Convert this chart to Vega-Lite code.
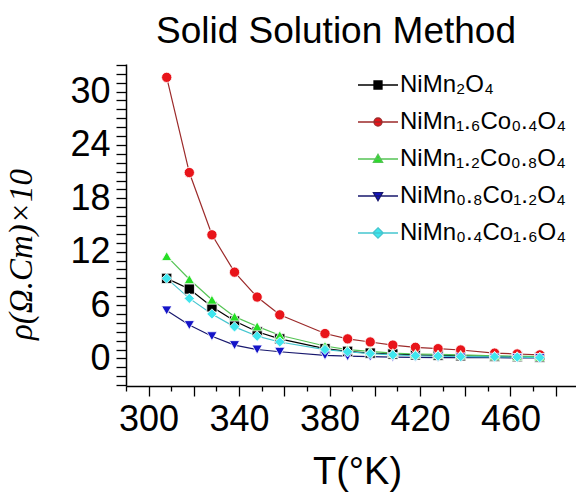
{
  "$schema": "https://vega.github.io/schema/vega-lite/v6.json",
  "autosize": {"type": "none"},
  "padding": {"left": 126, "top": 64, "right": 0, "bottom": 106},
  "width": 450,
  "height": 322,
  "background": "white",
  "config": {"view": {"stroke": null}},
  "title": {"text": "Solid Solution Method", "frame": "group", "anchor": "middle", "dx": -15, "dy": 16, "offset": 12, "font": "Liberation Sans", "fontSize": 37, "fontWeight": "normal", "color": "black"},
  "data": {"values": [
    {"T":308,"s":"NiMn₂O₄","r":9.0},{"T":318,"s":"NiMn₂O₄","r":7.8},{"T":328,"s":"NiMn₂O₄","r":5.8},{"T":338,"s":"NiMn₂O₄","r":4.2},{"T":348,"s":"NiMn₂O₄","r":3.0},{"T":358,"s":"NiMn₂O₄","r":2.2},{"T":378,"s":"NiMn₂O₄","r":1.1},{"T":388,"s":"NiMn₂O₄","r":0.8},{"T":398,"s":"NiMn₂O₄","r":0.6},{"T":408,"s":"NiMn₂O₄","r":0.5},{"T":418,"s":"NiMn₂O₄","r":0.4},{"T":428,"s":"NiMn₂O₄","r":0.35},{"T":438,"s":"NiMn₂O₄","r":0.3},{"T":453,"s":"NiMn₂O₄","r":0.22},{"T":463,"s":"NiMn₂O₄","r":0.2},{"T":473,"s":"NiMn₂O₄","r":0.15},
    {"T":308,"s":"NiMn₁.₆Co₀.₄O₄","r":31.6},{"T":318,"s":"NiMn₁.₆Co₀.₄O₄","r":20.9},{"T":328,"s":"NiMn₁.₆Co₀.₄O₄","r":13.9},{"T":338,"s":"NiMn₁.₆Co₀.₄O₄","r":9.7},{"T":348,"s":"NiMn₁.₆Co₀.₄O₄","r":6.9},{"T":358,"s":"NiMn₁.₆Co₀.₄O₄","r":4.9},{"T":378,"s":"NiMn₁.₆Co₀.₄O₄","r":2.8},{"T":388,"s":"NiMn₁.₆Co₀.₄O₄","r":2.2},{"T":398,"s":"NiMn₁.₆Co₀.₄O₄","r":1.85},{"T":408,"s":"NiMn₁.₆Co₀.₄O₄","r":1.5},{"T":418,"s":"NiMn₁.₆Co₀.₄O₄","r":1.25},{"T":428,"s":"NiMn₁.₆Co₀.₄O₄","r":1.1},{"T":438,"s":"NiMn₁.₆Co₀.₄O₄","r":0.95},{"T":453,"s":"NiMn₁.₆Co₀.₄O₄","r":0.6},{"T":463,"s":"NiMn₁.₆Co₀.₄O₄","r":0.5},{"T":473,"s":"NiMn₁.₆Co₀.₄O₄","r":0.4},
    {"T":308,"s":"NiMn₁.₂Co₀.₈O₄","r":11.5},{"T":318,"s":"NiMn₁.₂Co₀.₈O₄","r":8.9},{"T":328,"s":"NiMn₁.₂Co₀.₈O₄","r":6.6},{"T":338,"s":"NiMn₁.₂Co₀.₈O₄","r":4.7},{"T":348,"s":"NiMn₁.₂Co₀.₈O₄","r":3.6},{"T":358,"s":"NiMn₁.₂Co₀.₈O₄","r":2.6},{"T":378,"s":"NiMn₁.₂Co₀.₈O₄","r":1.4},{"T":388,"s":"NiMn₁.₂Co₀.₈O₄","r":1.0},{"T":398,"s":"NiMn₁.₂Co₀.₈O₄","r":0.8},{"T":408,"s":"NiMn₁.₂Co₀.₈O₄","r":0.6},{"T":418,"s":"NiMn₁.₂Co₀.₈O₄","r":0.5},{"T":428,"s":"NiMn₁.₂Co₀.₈O₄","r":0.45},{"T":438,"s":"NiMn₁.₂Co₀.₈O₄","r":0.4},{"T":453,"s":"NiMn₁.₂Co₀.₈O₄","r":0.3},{"T":463,"s":"NiMn₁.₂Co₀.₈O₄","r":0.25},{"T":473,"s":"NiMn₁.₂Co₀.₈O₄","r":0.2},
    {"T":308,"s":"NiMn₀.₈Co₁.₂O₄","r":5.4},{"T":318,"s":"NiMn₀.₈Co₁.₂O₄","r":3.75},{"T":328,"s":"NiMn₀.₈Co₁.₂O₄","r":2.5},{"T":338,"s":"NiMn₀.₈Co₁.₂O₄","r":1.5},{"T":348,"s":"NiMn₀.₈Co₁.₂O₄","r":1.0},{"T":358,"s":"NiMn₀.₈Co₁.₂O₄","r":0.75},{"T":378,"s":"NiMn₀.₈Co₁.₂O₄","r":0.35},{"T":388,"s":"NiMn₀.₈Co₁.₂O₄","r":0.25},{"T":398,"s":"NiMn₀.₈Co₁.₂O₄","r":0.2},{"T":408,"s":"NiMn₀.₈Co₁.₂O₄","r":0.15},{"T":418,"s":"NiMn₀.₈Co₁.₂O₄","r":0.12},{"T":428,"s":"NiMn₀.₈Co₁.₂O₄","r":0.1},{"T":438,"s":"NiMn₀.₈Co₁.₂O₄","r":0.1},{"T":453,"s":"NiMn₀.₈Co₁.₂O₄","r":0.08},{"T":463,"s":"NiMn₀.₈Co₁.₂O₄","r":0.06},{"T":473,"s":"NiMn₀.₈Co₁.₂O₄","r":0.05},
    {"T":308,"s":"NiMn₀.₄Co₁.₆O₄","r":9.0},{"T":318,"s":"NiMn₀.₄Co₁.₆O₄","r":6.75},{"T":328,"s":"NiMn₀.₄Co₁.₆O₄","r":5.0},{"T":338,"s":"NiMn₀.₄Co₁.₆O₄","r":3.55},{"T":348,"s":"NiMn₀.₄Co₁.₆O₄","r":2.5},{"T":358,"s":"NiMn₀.₄Co₁.₆O₄","r":1.85},{"T":378,"s":"NiMn₀.₄Co₁.₆O₄","r":1.0},{"T":388,"s":"NiMn₀.₄Co₁.₆O₄","r":0.75},{"T":398,"s":"NiMn₀.₄Co₁.₆O₄","r":0.55},{"T":408,"s":"NiMn₀.₄Co₁.₆O₄","r":0.4},{"T":418,"s":"NiMn₀.₄Co₁.₆O₄","r":0.3},{"T":428,"s":"NiMn₀.₄Co₁.₆O₄","r":0.26},{"T":438,"s":"NiMn₀.₄Co₁.₆O₄","r":0.2},{"T":453,"s":"NiMn₀.₄Co₁.₆O₄","r":0.18},{"T":463,"s":"NiMn₀.₄Co₁.₆O₄","r":0.15},{"T":473,"s":"NiMn₀.₄Co₁.₆O₄","r":0.1}
  ]},
  "encoding": {
    "x": {"field": "T", "type": "quantitative",
      "scale": {"domain": [290, 489], "nice": false, "zero": false},
      "axis": {"title": "T(°K)", "values": [290,300,310,320,330,340,350,360,370,380,390,400,410,420,430,440,450,460,470,480],
        "labelExpr": "datum.value % 40 === 20 ? datum.label : ''", "format": "d",
        "grid": false, "domainColor": "black", "domainWidth": 1.5, "tickColor": "black", "tickWidth": 1.3,
        "tickSize": {"condition": {"test": "datum.value % 20 === 0", "value": 10}, "value": 5},
        "labelFont": "Liberation Sans", "labelFontSize": 36, "labelColor": "black", "labelPadding": 6, "labelFlush": false, "labelOverlap": false,
        "titleFont": "Liberation Sans", "titleFontSize": 38, "titleFontWeight": "normal", "titleColor": "black",
        "titleX": 231, "titleY": 97, "titleBaseline": "alphabetic", "titleAlign": "center"}},
    "y": {"field": "r", "type": "quantitative",
      "scale": {"domain": [-3.1, 33.1], "nice": false, "zero": false},
      "axis": {"title": "ρ(Ω.Cm)×10", "values": [-3,-2,-1,0,1,2,3,4,5,6,7,8,9,10,11,12,13,14,15,16,17,18,19,20,21,22,23,24,25,26,27,28,29,30,31,32,33],
        "labelExpr": "(datum.value % 6 === 0 && datum.value >= 0 && datum.value <= 30) ? datum.label : ''", "format": "d",
        "grid": false, "domainColor": "black", "domainWidth": 1.5, "tickColor": "black", "tickWidth": 1.3, "tickSize": 10,
        "labelFont": "Liberation Sans", "labelFontSize": 36, "labelColor": "black", "labelPadding": 6, "labelFlush": false, "labelOverlap": false,
        "titleFont": "Liberation Serif", "titleFontStyle": "italic", "titleFontSize": 33, "titleFontWeight": "normal", "titleColor": "black",
        "titleAngle": -90, "titleX": -95, "titleY": 190, "titleBaseline": "alphabetic", "titleAlign": "center"}}
  },
  "layer": [
    {"mark": {"type": "line", "strokeWidth": 1.2},
     "encoding": {"stroke": {"field": "s", "type": "nominal", "legend": null,
        "scale": {"domain": ["NiMn₂O₄","NiMn₁.₆Co₀.₄O₄","NiMn₁.₂Co₀.₈O₄","NiMn₀.₈Co₁.₂O₄","NiMn₀.₄Co₁.₆O₄"],
                  "range": ["#000000","#9c2a2a","#55c455","#18186e","#45c6cf"]}}}},
    {"mark": {"type": "point", "filled": true, "opacity": 1, "size": 105, "stroke": "white", "strokeWidth": 0.8},
     "encoding": {
       "fill": {"field": "s", "type": "nominal", "legend": null,
         "scale": {"domain": ["NiMn₂O₄","NiMn₁.₆Co₀.₄O₄","NiMn₁.₂Co₀.₈O₄","NiMn₀.₈Co₁.₂O₄","NiMn₀.₄Co₁.₆O₄"],
                   "range": ["#000000","#e8141a","#26de26","#1414c8","#3fe6ee"]}},
       "shape": {"field": "s", "type": "nominal", "legend": null,
         "scale": {"domain": ["NiMn₂O₄","NiMn₁.₆Co₀.₄O₄","NiMn₁.₂Co₀.₈O₄","NiMn₀.₈Co₁.₂O₄","NiMn₀.₄Co₁.₆O₄"],
                   "range": ["square","circle","triangle-up","triangle-down","diamond"]}}}},
    {"mark": {"type": "point", "filled": true, "opacity": 0, "size": 64},
     "encoding": {
       "fill": {"field": "s", "type": "nominal",
         "scale": {"domain": ["NiMn₂O₄","NiMn₁.₆Co₀.₄O₄","NiMn₁.₂Co₀.₈O₄","NiMn₀.₈Co₁.₂O₄","NiMn₀.₄Co₁.₆O₄"],
                   "range": ["#000000","#e8141a","#26de26","#1414c8","#3fe6ee"]},
         "legend": {"title": null, "orient": "none", "legendX": 240, "legendY": 9, "padding": 0,
           "labelFont": "Liberation Sans", "labelFontSize": 24, "labelColor": "black", "labelLimit": 0, "labelOffset": 10,
           "rowPadding": 13, "symbolSize": 64, "symbolOpacity": 1, "symbolStrokeWidth": 1.3}},
       "stroke": {"field": "s", "type": "nominal",
         "scale": {"domain": ["NiMn₂O₄","NiMn₁.₆Co₀.₄O₄","NiMn₁.₂Co₀.₈O₄","NiMn₀.₈Co₁.₂O₄","NiMn₀.₄Co₁.₆O₄"],
                   "range": ["#000000","#9c2a2a","#55c455","#18186e","#45c6cf"]},
         "legend": {"title": null, "orient": "none", "legendX": 240, "legendY": 9, "padding": 0,
           "labelFont": "Liberation Sans", "labelFontSize": 24, "labelColor": "black", "labelLimit": 0, "labelOffset": 10,
           "rowPadding": 13, "symbolSize": 64, "symbolOpacity": 1, "symbolStrokeWidth": 1.3}},
       "shape": {"field": "s", "type": "nominal",
         "scale": {"domain": ["NiMn₂O₄","NiMn₁.₆Co₀.₄O₄","NiMn₁.₂Co₀.₈O₄","NiMn₀.₈Co₁.₂O₄","NiMn₀.₄Co₁.₆O₄"],
                   "range": ["M-5,0H5M-1,-1H1V1H-1Z","M-5,0H5M1,0A1,1,0,1,1,-1,0A1,1,0,1,1,1,0Z","M-5,0H5M0,-1.15L1.15,0.85H-1.15Z","M-5,0H5M0,1.15L1.15,-0.85H-1.15Z","M-5,0H5M0,-1.3L1.3,0L0,1.3L-1.3,0Z"]},
         "legend": {"title": null, "orient": "none", "legendX": 240, "legendY": 9, "padding": 0,
           "labelFont": "Liberation Sans", "labelFontSize": 24, "labelColor": "black", "labelLimit": 0, "labelOffset": 10,
           "rowPadding": 13, "symbolSize": 64, "symbolOpacity": 1, "symbolStrokeWidth": 1.3}}}}
  ],
  "resolve": {"scale": {"fill": "independent", "stroke": "independent", "shape": "independent"}}
}
